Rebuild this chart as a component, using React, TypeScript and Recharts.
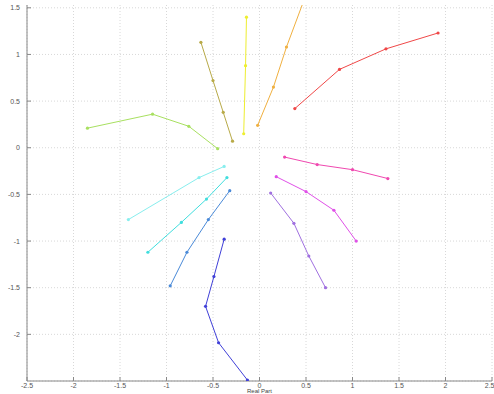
import React from "react";
import {
  ScatterChart,
  Scatter,
  XAxis,
  YAxis,
  CartesianGrid,
} from "recharts";

// root-locus style branches
const redBranch = [
  { x: 0.38, y: 0.42 },
  { x: 0.86, y: 0.84 },
  { x: 1.36, y: 1.06 },
  { x: 1.92, y: 1.23 },
];
const orangeBranch = [
  { x: -0.02, y: 0.24 },
  { x: 0.15, y: 0.65 },
  { x: 0.29, y: 1.08 },
  { x: 0.485, y: 1.6 },
];
const yellowBranch = [
  { x: -0.17, y: 0.15 },
  { x: -0.15, y: 0.88 },
  { x: -0.14, y: 1.4 },
];
const oliveBranch = [
  { x: -0.63, y: 1.13 },
  { x: -0.5, y: 0.72 },
  { x: -0.39, y: 0.38 },
  { x: -0.29, y: 0.07 },
];
const greenBranch = [
  { x: -1.85, y: 0.21 },
  { x: -1.15, y: 0.36 },
  { x: -0.76, y: 0.23 },
  { x: -0.45, y: -0.01 },
];
const lightCyanBranch = [
  { x: -1.41, y: -0.77 },
  { x: -0.65, y: -0.32 },
  { x: -0.38, y: -0.2 },
];
const cyanBranch = [
  { x: -1.2, y: -1.12 },
  { x: -0.84, y: -0.8 },
  { x: -0.57, y: -0.55 },
  { x: -0.35, y: -0.32 },
];
const steelBranch = [
  { x: -0.96, y: -1.48 },
  { x: -0.78, y: -1.12 },
  { x: -0.55, y: -0.77 },
  { x: -0.32, y: -0.46 },
];
const blueBranch = [
  { x: -0.38, y: -0.98 },
  { x: -0.49, y: -1.38 },
  { x: -0.58, y: -1.7 },
  { x: -0.44, y: -2.09 },
  { x: -0.13, y: -2.49 },
];
const pinkBranch = [
  { x: 0.27, y: -0.1 },
  { x: 0.62, y: -0.18 },
  { x: 1.0, y: -0.235 },
  { x: 1.38, y: -0.33 },
];
const magentaBranch = [
  { x: 0.18, y: -0.31 },
  { x: 0.5, y: -0.47 },
  { x: 0.8, y: -0.67 },
  { x: 1.04, y: -1.0 },
];
const violetBranch = [
  { x: 0.12, y: -0.485 },
  { x: 0.37, y: -0.81 },
  { x: 0.53, y: -1.16 },
  { x: 0.71, y: -1.5 },
];

const xTicks = [-2.5, -2, -1.5, -1, -0.5, 0, 0.5, 1, 1.5, 2, 2.5];
const yTicks = [-2, -1.5, -1, -0.5, 0, 0.5, 1, 1.5];
const xDomain: [number, number] = [-2.5, 2.5];
const yDomain: [number, number] = [-2.5, 1.53];

const branches = [
  { data: redBranch, color: "#f04848" },
  { data: orangeBranch, color: "#f0b040" },
  { data: yellowBranch, color: "#eeee30" },
  { data: oliveBranch, color: "#b8aa48" },
  { data: greenBranch, color: "#a8e060" },
  { data: lightCyanBranch, color: "#88eeee" },
  { data: cyanBranch, color: "#40dede" },
  { data: steelBranch, color: "#4a8ad8" },
  { data: blueBranch, color: "#4040d8" },
  { data: pinkBranch, color: "#f048b0" },
  { data: magentaBranch, color: "#e050e8" },
  { data: violetBranch, color: "#a070e0" },
];

const Dot = (props: any) => {
  const { cx, cy, fill } = props;
  if (cx == null || cy == null) return null;
  return <circle cx={cx} cy={cy} r={1.6} fill={fill} />;
};

// grid lines only at the labelled ticks
const gridX = ({ offset }: any) =>
  xTicks.map((v) => offset.left + ((v - xDomain[0]) / (xDomain[1] - xDomain[0])) * offset.width);
const gridY = ({ offset }: any) =>
  [-2.5, ...yTicks].map((v) => offset.top + ((yDomain[1] - v) / (yDomain[1] - yDomain[0])) * offset.height);

const font = "Liberation Sans, Arial, sans-serif";
const tickStyle = { fontSize: 7, fill: "#555", fontFamily: font };
const axisStroke = { stroke: "#888" };

export default function App() {
  return (
    <div style={{ position: "absolute", left: 0, top: 0, width: 494, height: 394, overflow: "hidden", background: "#fff" }}>
      <ScatterChart width={494} height={394} margin={{ top: 5, right: 2, bottom: 0, left: 0 }}>
        <CartesianGrid
          xAxisId="b"
          yAxisId="l"
          stroke="#d8d8d8"
          strokeDasharray="1 2"
          verticalCoordinatesGenerator={gridX}
          horizontalCoordinatesGenerator={gridY}
        />
        <XAxis
          type="number"
          dataKey="x"
          xAxisId="b"
          domain={xDomain}
          ticks={xTicks}
          allowDataOverflow
          height={13}
          tick={tickStyle}
          tickLine={axisStroke}
          tickSize={-4}
          tickMargin={6}
          axisLine={axisStroke}
          label={{ value: "Real Part", position: "insideBottom", offset: 1, style: { fontSize: 6, fill: "#444", fontFamily: font } }}
        />
        <XAxis
          type="number"
          dataKey="x"
          xAxisId="t"
          orientation="top"
          domain={xDomain}
          ticks={xTicks}
          height={0}
          tick={false}
          tickLine={axisStroke}
          tickSize={-4}
          axisLine={axisStroke}
        />
        <YAxis
          type="number"
          dataKey="y"
          yAxisId="l"
          domain={yDomain}
          ticks={yTicks}
          allowDataOverflow
          width={27}
          tick={tickStyle}
          tickLine={axisStroke}
          tickSize={-4}
          tickMargin={11}
          axisLine={axisStroke}
        />
        <YAxis
          type="number"
          dataKey="y"
          yAxisId="r"
          orientation="right"
          domain={yDomain}
          ticks={yTicks}
          width={0}
          tick={false}
          tickLine={axisStroke}
          tickSize={-4}
          axisLine={axisStroke}
        />
        {branches.map((b, i) => (
          <Scatter
            key={i}
            xAxisId="b"
            yAxisId="l"
            data={b.data}
            fill={b.color}
            line={{ stroke: b.color, strokeWidth: 1 }}
            shape={<Dot />}
            isAnimationActive={false}
          />
        ))}
      </ScatterChart>
    </div>
  );
}
